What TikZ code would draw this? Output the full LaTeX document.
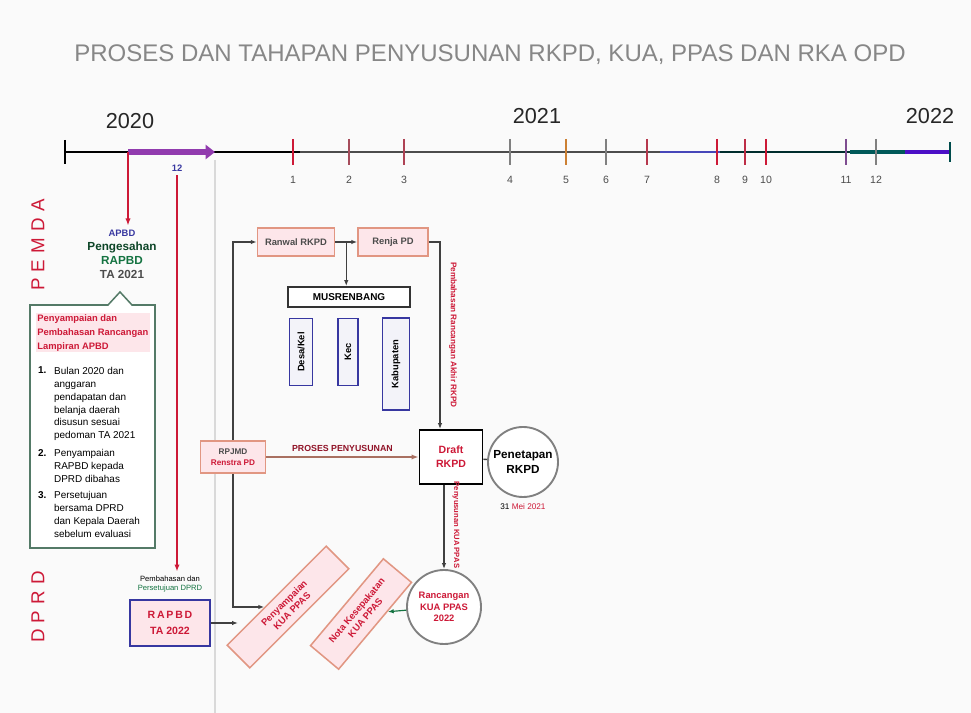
\documentclass[tikz,border=0pt]{standalone}
\usepackage{fontspec}
\setmainfont{Liberation Sans}
\usetikzlibrary{arrows.meta,positioning}
\definecolor{merah}{RGB}{205,25,55}
\definecolor{ungu}{RGB}{125,25,160}
\definecolor{salem}{RGB}{225,150,130}
\definecolor{jambon}{RGB}{253,230,234}
\definecolor{biru}{RGB}{55,55,160}
\definecolor{hijau}{RGB}{20,115,65}
\definecolor{abu}{RGB}{135,135,135}
\begin{document}
\begin{tikzpicture}[x=0.03cm,y=-0.03cm,
  kotak/.style={draw=salem,line width=1.3pt,fill=jambon,align=center,inner sep=1pt,
    font=\fontsize{8}{9.5}\selectfont\bfseries,text=merah},
  kolom/.style={draw=biru,line width=1.3pt,fill=biru!6,inner sep=1pt,
    font=\fontsize{8}{9}\selectfont\bfseries},
  lingkar/.style={circle,draw=gray,line width=1.6pt,fill=white,align=center,inner sep=1pt},
  panah/.style={-{Latex[length=5pt]},line width=1pt,black!75},
  tik/.style={line width=1.8pt},
  angka/.style={font=\fontsize{9}{10}\selectfont,text=black!70},
  tahun/.style={font=\fontsize{18.5}{20}\selectfont,text=black!85},
  butir/.style={anchor=north west,align=left,font=\fontsize{8.5}{11}\selectfont}]
\useasboundingbox (0,0) rectangle (971,713);
\fill[gray!4] (0,0) rectangle (971,713);
\node[text=abu,font=\fontsize{20.5}{24}\selectfont] (judul) at (490,55)
  {PROSES DAN TAHAPAN PENYUSUNAN RKPD, KUA, PPAS DAN RKA OPD};
\draw[gray!30,line width=1pt] (215,160) -- (215,713);

% garis waktu
\coordinate (awal) at (65,152);
\coordinate (akhir) at (950,152);
\coordinate (p20) at (128,152);
\draw[line width=2pt,black] (awal) -- (300,152);
\draw[line width=2pt,black!70] (300,152) -- (660,152);
\draw[line width=2.5pt,blue!45!gray] (660,152) -- (720,152);
\draw[line width=2.5pt,black!65!teal] (720,152) -- (850,152);
\draw[line width=3pt,teal!70!black] (850,152) -- (905,152);
\draw[line width=3.5pt,ungu!60!blue] (905,152) -- (akhir);
\draw[line width=1.5pt] (65,140) -- (65,164);
\draw[line width=1.5pt,teal!60!black] (950,142) -- (950,162);
\draw[line width=5pt,ungu!85,-{Triangle[length=8pt,width=12pt]}] (p20) -- (215,152);
\node[tahun] (th20) at (130,121) {2020};
\node[tahun] (th21) at (537,116) {2021};
\node[tahun] (th22) at (930,116) {2022};
\foreach \x/\n/\w in {293/1/merah,349/2/merah!50!gray,404/3/merah!60!gray,
    510/4/gray,566/5/orange!60!gray,606/6/gray,647/7/merah!70!gray,
    717/8/merah,745/9/merah!80!gray,766/10/merah,846/11/ungu!50!gray,876/12/gray}{
  \draw[tik,\w] (\x,139) -- (\x,165);
  \node[angka] (b\n) at (\x,180) {\n};
}
\node[font=\fontsize{8}{9}\selectfont\bfseries,text=biru] (des) at (177,168) {12};

% pemda
\node[rotate=90,text=merah,font=\fontsize{16}{18}\selectfont] (pemda) at (38,245) {P\,\,E\,\,M\,\,D\,\,A};
\node[align=center,font=\fontsize{10}{12}\selectfont\bfseries] (apbd) at (122,254)
  {\textcolor{biru}{\fontsize{8}{9}\selectfont APBD}\\
   \textcolor{hijau!60!black}{Pengesahan}\\
   \textcolor{hijau}{RAPBD}\\
   \textcolor{black!70}{TA 2021}};
\draw[merah,line width=2pt,-{Latex[length=6pt]}] (p20) -- (p20 |- apbd.north);
\draw[gray!60!hijau,line width=1.3pt,fill=white] (30,305) -- (108,305) -- (120,292)
  -- (132,305) -- (155,305) -- (155,548) -- (30,548) -- cycle;
\node[anchor=north west,align=left,text=merah,fill=jambon,inner sep=1pt,
  font=\fontsize{8}{12}\selectfont\bfseries] (judulkotak) at (36,313)
  {Penyampaian dan\\Pembahasan Rancangan\\Lampiran APBD};
\node[butir,font=\fontsize{8.5}{11}\selectfont\bfseries] (n1) at (34,363) {1.};
\node[butir] (butir1) at (50,363)
  {Bulan 2020 dan\\anggaran\\pendapatan dan\\belanja daerah\\disusun sesuai\\pedoman TA 2021};
\node[butir,font=\fontsize{8.5}{11}\selectfont\bfseries] (n2) at (34,445) {2.};
\node[butir] (butir2) at (50,445)
  {Penyampaian\\RAPBD kepada\\DPRD dibahas};
\node[butir,font=\fontsize{8.5}{11}\selectfont\bfseries] (n3) at (34,487) {3.};
\node[butir] (butir3) at (50,487)
  {Persetujuan\\bersama DPRD\\dan Kepala Daerah\\sebelum evaluasi};

% dprd
\node[rotate=90,text=merah,font=\fontsize{16}{18}\selectfont] (dprd) at (38,607) {D\,\,P\,\,R\,\,D};
\node[align=center,font=\fontsize{6.5}{8}\selectfont] (ketdprd) at (170,584)
  {Pembahasan dan\\\textcolor{hijau}{Persetujuan DPRD}};
\draw[merah,line width=2pt,-{Latex[length=6pt]}] (des.south) -- (des.south |- ketdprd.north);
\node[draw=biru,line width=1.6pt,fill=jambon,minimum width=2.4cm,minimum height=1.38cm,
  align=center,text=merah,font=\fontsize{9}{14}\selectfont\bfseries] (rapbd) at (170,623)
  {R\,A\,P\,B\,D\\TA 2022};

% rkpd
\node[kotak,minimum width=2.31cm,minimum height=0.84cm,text=black!70] (ranwal) at (296,242) {Ranwal RKPD};
\node[kotak,minimum width=2.1cm,minimum height=0.84cm,text=black!70] (renja) at (393,242) {Renja PD};
\draw[panah] (ranwal) -- (renja);
\path (ranwal.east) -- (renja.west) coordinate[midway] (tengahab);
\node[draw=black!80,line width=1.6pt,fill=white,minimum width=3.66cm,minimum height=0.6cm,
  font=\fontsize{8.5}{10}\selectfont\bfseries] (musren) at (349,297) {MUSRENBANG};
\draw[panah] (tengahab) -- (tengahab |- musren.north);
\node[kolom,rotate=90,minimum width=2.01cm,minimum height=0.69cm] (desa) at (301,352) {Desa/Kel};
\node[kolom,rotate=90,minimum width=2.01cm,minimum height=0.6cm] (kec) at (348,352) {Kec};
\node[kolom,rotate=90,minimum width=2.76cm,minimum height=0.81cm] (kab) at (396,364) {Kabupaten};

\node[draw=black,line width=1.6pt,fill=white,minimum width=1.89cm,minimum height=1.62cm,
  align=center,text=merah,font=\fontsize{9}{12}\selectfont\bfseries] (draft) at (451,457) {Draft\\RKPD};
\coordinate (belok) at (440,242);
\draw[panah] (renja.east) -- (belok) -- (belok |- draft.north);
\node[rotate=-90,text=merah,font=\fontsize{7}{8}\selectfont\bfseries] (ketranhir) at (453,335)
  {Pembahasan Rancangan Akhir RKPD};
\node[lingkar,minimum size=2.1cm,font=\fontsize{10}{12}\selectfont\bfseries] (perkada) at (523,462)
  {Penetapan\\RKPD};
\draw[line width=1.2pt,black!75] (draft) -- (perkada);
\node[font=\fontsize{7}{8}\selectfont,below=1pt of perkada] (tglrkpd) {31 \textcolor{merah}{Mei 2021}};

\node[kotak,minimum width=1.95cm,minimum height=0.96cm,text=black!70,
  font=\fontsize{7}{9}\selectfont\bfseries] (rpjmd) at (233,457) {RPJMD\\\textcolor{merah}{Renstra PD}};
\draw[salem!75!black,line width=2pt,-{Latex[length=6pt]}] (rpjmd) --
  node[above,text=merah!70!black,font=\fontsize{7.5}{9}\selectfont\bfseries] (ketproses) {PROSES PENYUSUNAN} (draft);
\draw[panah] (rpjmd.north) |- (ranwal);

% kua ppas
\node[lingkar,minimum size=2.22cm,text=merah,font=\fontsize{8}{10}\selectfont\bfseries] (kuappas) at (444,607)
  {Rancangan\\KUA PPAS\\2022};
\draw[panah] (kuappas.north |- draft.south) -- (kuappas.north);
\node[rotate=-90,text=merah,font=\fontsize{6.5}{8}\selectfont\bfseries] (ketkua) at (456,525)
  {Penyusunan KUA PPAS};
\node[kotak,rotate=45,minimum width=4.2cm,minimum height=0.96cm] (bahas1) at (288,607)
  {Penyampaian\\KUA PPAS};
\node[kotak,rotate=50,minimum width=3.4cm,minimum height=1.1cm] (bahas2) at (361,614)
  {Nota Kesepakatan\\KUA PPAS};
\draw[panah] (rpjmd.south) |- (bahas1);
\draw[panah] (rapbd.east) -- (rapbd.east -| bahas1.west);
\draw[panah,hijau] (kuappas) -- (bahas2);
\end{tikzpicture}
\end{document}
